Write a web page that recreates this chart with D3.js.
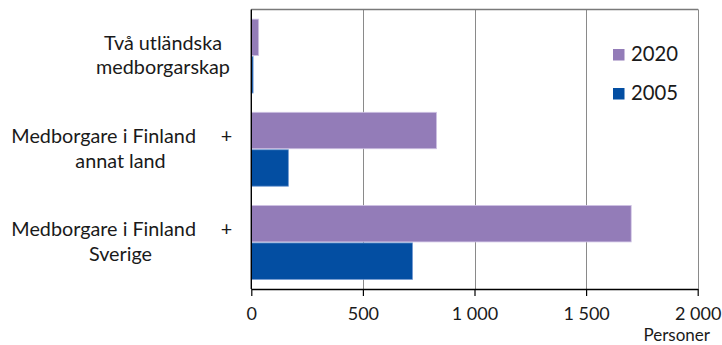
<!DOCTYPE html>
<html><head><meta charset="utf-8">
<script src="https://cdn.jsdelivr.net/npm/d3@7"></script>
<style>body{margin:0;background:#fff}svg{display:block}text{font-family:Lato,"Open Sans",sans-serif;fill:#1a1a1a}</style>
</head><body><svg id="c" width="722" height="345"></svg>
<script>
const categories = ["Två utländska medborgarskap", "Medborgare i Finland + annat land", "Medborgare i Finland + Sverige"];
const categoryLines = [["Två utländska", "medborgarskap"], ["Medborgare i Finland", "annat land"], ["Medborgare i Finland", "Sverige"]];
const categoryPlus = [false, true, true];
const seriesNames = ["2020", "2005"];
const values2020 = [33, 830, 1702];
const values2005 = [8, 166, 722];
const xTicks = [0, 500, 1000, 1500, 2000];
const xTickLabels = ["0", "500", "1 000", "1 500", "2 000"];
const axisTitle = "Personer";
const colors = {"2020": "#937cb8", "2005": "#034ea2"};
const strokes = {"2020": "#cfc3e4", "2005": "#6f97d0"};

const svg = d3.select("#c");
const L = 251.3, R = 697.7, T = 9.5, B = 289;
const x = d3.scaleLinear().domain([0, 2000]).range([L, R]);
const y = d3.scaleBand().domain(categories).range([T, B]).paddingInner(0.196).paddingOuter(0.098);
const ys = d3.scaleBand().domain(seriesNames).range([0, y.bandwidth()]);
const vals = {"2020": values2020, "2005": values2005};

// gridlines
svg.append("g").selectAll("line").data(xTicks.slice(1)).join("line")
  .attr("x1", d => Math.round(x(d)) + 0.5).attr("x2", d => Math.round(x(d)) + 0.5)
  .attr("y1", T).attr("y2", B).attr("stroke", "#8a8a8a").attr("stroke-width", 1);
svg.append("line").attr("x1", L).attr("x2", R + 0.5).attr("y1", T).attr("y2", T)
  .attr("stroke", "#7a7a7a").attr("stroke-width", 1.3);

// bars
seriesNames.forEach(s => {
  svg.append("g").selectAll("rect").data(categories).join("rect")
    .attr("x", x(0)).attr("y", (c) => y(c) + ys(s) + 0.5)
    .attr("width", (c, i) => x(vals[s][i]) - x(0))
    .attr("height", ys.bandwidth() - 1)
    .attr("fill", colors[s]).attr("stroke", strokes[s]).attr("stroke-width", 0.8);
});

// axes
const xAxis = d3.axisBottom(x).tickValues(xTicks).tickFormat((d, i) => xTickLabels[i]).tickSize(7).tickSizeOuter(0);
const gx = svg.append("g").attr("transform", `translate(0,${B})`).call(xAxis);
gx.select(".domain").attr("stroke", "#000").attr("stroke-width", 1.4);
gx.selectAll(".tick line").attr("stroke", "#000").attr("stroke-width", 1.2);
gx.selectAll(".tick text").attr("y", 31).attr("dy", 0).attr("font-size", 18)
  .style("font-family", "Lato, sans-serif").attr("fill", "#1a1a1a");
svg.append("line").attr("x1", L).attr("x2", L).attr("y1", T).attr("y2", B).attr("stroke", "#000").attr("stroke-width", 1.4);

svg.append("text").attr("x", 710).attr("y", 341.3).attr("text-anchor", "end").attr("font-size", 17).text(axisTitle);

// category labels
const fs = 19.8;
const lab = svg.append("g");
categories.forEach((c, i) => {
  const cy = y(c) + y.bandwidth() / 2;
  const lines = categoryLines[i];
  if (categoryPlus[i]) {
    lab.append("text").attr("x", 196).attr("y", cy - 6.5).attr("text-anchor", "end").attr("font-size", fs).text(lines[0]);
    lab.append("text").attr("x", 226.5).attr("y", cy - 6.5).attr("text-anchor", "middle").attr("font-size", fs).text("+");
    lab.append("text").attr("x", 120.5).attr("y", cy + 18.5).attr("text-anchor", "middle").attr("font-size", fs).text(lines[1]);
  } else {
    lab.append("text").attr("x", 163).attr("y", cy - 6).attr("text-anchor", "middle").attr("font-size", fs).text(lines[0]);
    lab.append("text").attr("x", 163).attr("y", cy + 18).attr("text-anchor", "middle").attr("font-size", fs).text(lines[1]);
  }
});

// legend
const lg = svg.append("g");
seriesNames.forEach((s, i) => {
  const yy = 49 + i * 39;
  lg.append("rect").attr("x", 613).attr("y", yy).attr("width", 11.5).attr("height", 11.5).attr("fill", colors[s]);
  lg.append("text").attr("x", 631).attr("y", yy + 11.8).attr("font-size", 20.3).text(s);
});
</script></body></html>
